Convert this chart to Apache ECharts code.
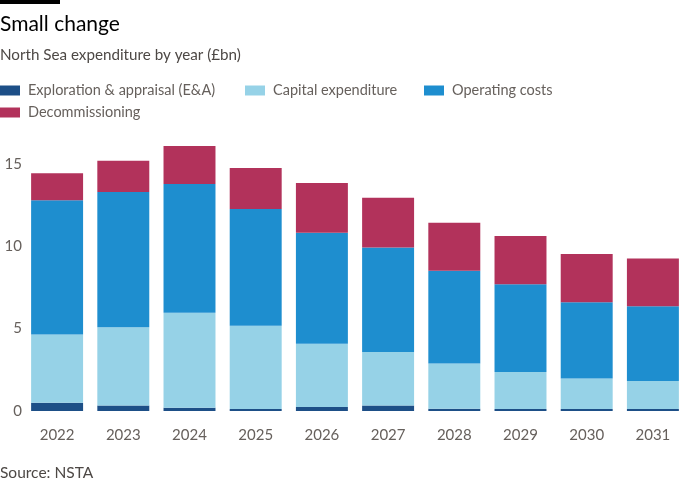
<!DOCTYPE html>
<html>
<head>
<meta charset="utf-8">
<script src="https://cdn.jsdelivr.net/npm/echarts@6/dist/echarts.min.js"></script>
<style>
html,body{margin:0;padding:0;background:#fff;}
#c{width:700px;height:500px;}
</style>
</head>
<body>
<div id="c"></div>
<script>
var years = ['2022','2023','2024','2025','2026','2027','2028','2029','2030','2031'];
var exploration = [0.50,0.34,0.20,0.12,0.24,0.34,0.14,0.12,0.12,0.12];
var capex = [4.14,4.75,5.76,5.05,3.85,3.24,2.74,2.25,1.86,1.70];
var opex = [8.15,8.21,7.82,7.09,6.73,6.35,5.63,5.33,4.63,4.54];
var decommissioning = [1.64,1.90,2.31,2.50,3.02,3.02,2.92,2.92,2.92,2.90];
var yTicks = [0,5,10,15];

var FONT = 'Lato';
var names = ['Exploration & appraisal (E&A)','Capital expenditure','Operating costs','Decommissioning'];
var colors = ['#1d4f87','#96d2e7','#1e8ecf','#b2325b'];
var values = [exploration, capex, opex, decommissioning];

var chart = echarts.init(document.getElementById('c'), null, {renderer:'canvas'});

var legendPos = [[0,83],[245,83],[424,83],[0,105]];
var legends = names.map(function(n,i){
  return {
    data:[n], left:legendPos[i][0], top:legendPos[i][1],
    itemWidth:20, itemHeight:10, itemGap:0, padding:0,
    icon:'rect', selectedMode:false,
    textStyle:{fontFamily:FONT,fontSize:14.5,color:'#66605c',padding:[0,0,0,3]}
  };
});

var series = names.map(function(n,i){
  return {
    name:n, type:'bar', stack:'total', data:values[i],
    barCategoryGap:'21.5%',
    itemStyle:{color:colors[i]},
    emphasis:{disabled:true}
  };
});

chart.setOption({
  backgroundColor:'#ffffff',
  animation:false,
  color:colors,
  graphic:[
    {type:'rect',left:0,top:0,shape:{width:60,height:4},style:{fill:'#000'}}
  ],
  title:[
    {text:'Small change',left:0,top:14,padding:0,textStyle:{fontFamily:FONT,fontSize:21,fontWeight:'normal',color:'#000'}},
    {text:'North Sea expenditure by year (£bn)',left:0,top:48,padding:0,textStyle:{fontFamily:FONT,fontSize:15.2,fontWeight:'normal',color:'#4d4845'}},
    {text:'Source: NSTA',left:0,top:465,padding:0,textStyle:{fontFamily:FONT,fontSize:15.5,fontWeight:'normal',color:'#4d4845'}}
  ],
  legend:legends,
  grid:{left:24,right:14,top:131,bottom:89,containLabel:false},
  xAxis:{
    type:'category', data:years,
    axisLine:{show:false}, axisTick:{show:false},
    axisLabel:{fontFamily:FONT,fontSize:15,color:'#66605c',margin:17}
  },
  yAxis:{
    type:'value', min:0, max:17, interval:5,
    splitLine:{show:false}, axisLine:{show:false}, axisTick:{show:false},
    axisLabel:{fontFamily:FONT,fontSize:15,color:'#66605c',margin:2,showMaxLabel:false,
      formatter:function(v){return yTicks.indexOf(v)>=0?String(v):'';}}
  },
  series:series
});
</script>
</body>
</html>
